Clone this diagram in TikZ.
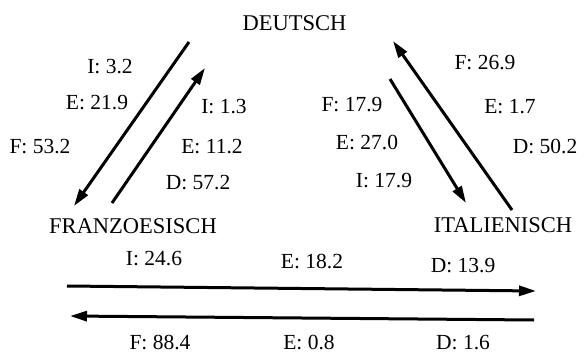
\documentclass[tikz,border=0pt]{standalone}
\usepackage{fontspec}
\setmainfont{Liberation Serif}
\usetikzlibrary{arrows.meta}
\begin{document}
\begin{tikzpicture}[x=1pt,y=-1pt,
  lang/.style={inner sep=0pt, font=\fontsize{22.5}{27}\selectfont},
  lbl/.style={inner sep=0pt, font=\fontsize{21.5}{26}\selectfont},
  flow/.style={line width=3pt, -{Triangle[length=17pt,width=10pt]}}]
\useasboundingbox (0,0) rectangle (584,356);
% language nodes
\node[lang] (D) at (294.5,23) {DEUTSCH};
\node[lang] (F) at (133,226) {FRANZOESISCH};
\node[lang] (I) at (503,225) {ITALIENISCH};
% arrow end points
\coordinate (dfs) at (189,42);  \coordinate (dfe) at (74,206);
\coordinate (fds) at (112,203); \coordinate (fde) at (205,68);
\coordinate (dis) at (390,79);  \coordinate (die) at (466,203);
\coordinate (ids) at (512,210); \coordinate (ide) at (393,41);
\coordinate (fis) at (67,286);  \coordinate (fie) at (536,291);
\coordinate (ifs) at (534,320); \coordinate (ife) at (70,316);
% connectors
\draw[flow] (dfs) -- (dfe);
\draw[flow] (fds) -- (fde);
\draw[flow] (dis) -- (die);
\draw[flow] (ids) -- (ide);
\draw[flow] (fis) -- (fie);
\draw[flow] (ifs) -- (ife);
% labels D -> F
\node[lbl] (l1) at (110,67) {I: 3.2};
\node[lbl] (l2) at (97,103) {E: 21.9};
\node[lbl] (l3) at (40,147) {F: 53.2};
% labels F -> D
\node[lbl] (l4) at (224,107) {I: 1.3};
\node[lbl] (l5) at (212,147) {E: 11.2};
\node[lbl] (l6) at (198,183) {D: 57.2};
% labels D -> I
\node[lbl] (l7) at (352,105) {F: 17.9};
\node[lbl] (l8) at (367,143) {E: 27.0};
\node[lbl] (l9) at (384,181) {I: 17.9};
% labels I -> D
\node[lbl] (l10) at (485,63) {F: 26.9};
\node[lbl] (l11) at (510,107) {E: 1.7};
\node[lbl] (l12) at (545,147) {D: 50.2};
% labels F -> I
\node[lbl] (l13) at (154,259) {I: 24.6};
\node[lbl] (l14) at (312,262) {E: 18.2};
\node[lbl] (l15) at (463,266) {D: 13.9};
% labels I -> F
\node[lbl] (l16) at (160,342) {F: 88.4};
\node[lbl] (l17) at (309,342) {E:\ 0.8};
\node[lbl] (l18) at (463,343) {D:\ 1.6};
\end{tikzpicture}
\end{document}
